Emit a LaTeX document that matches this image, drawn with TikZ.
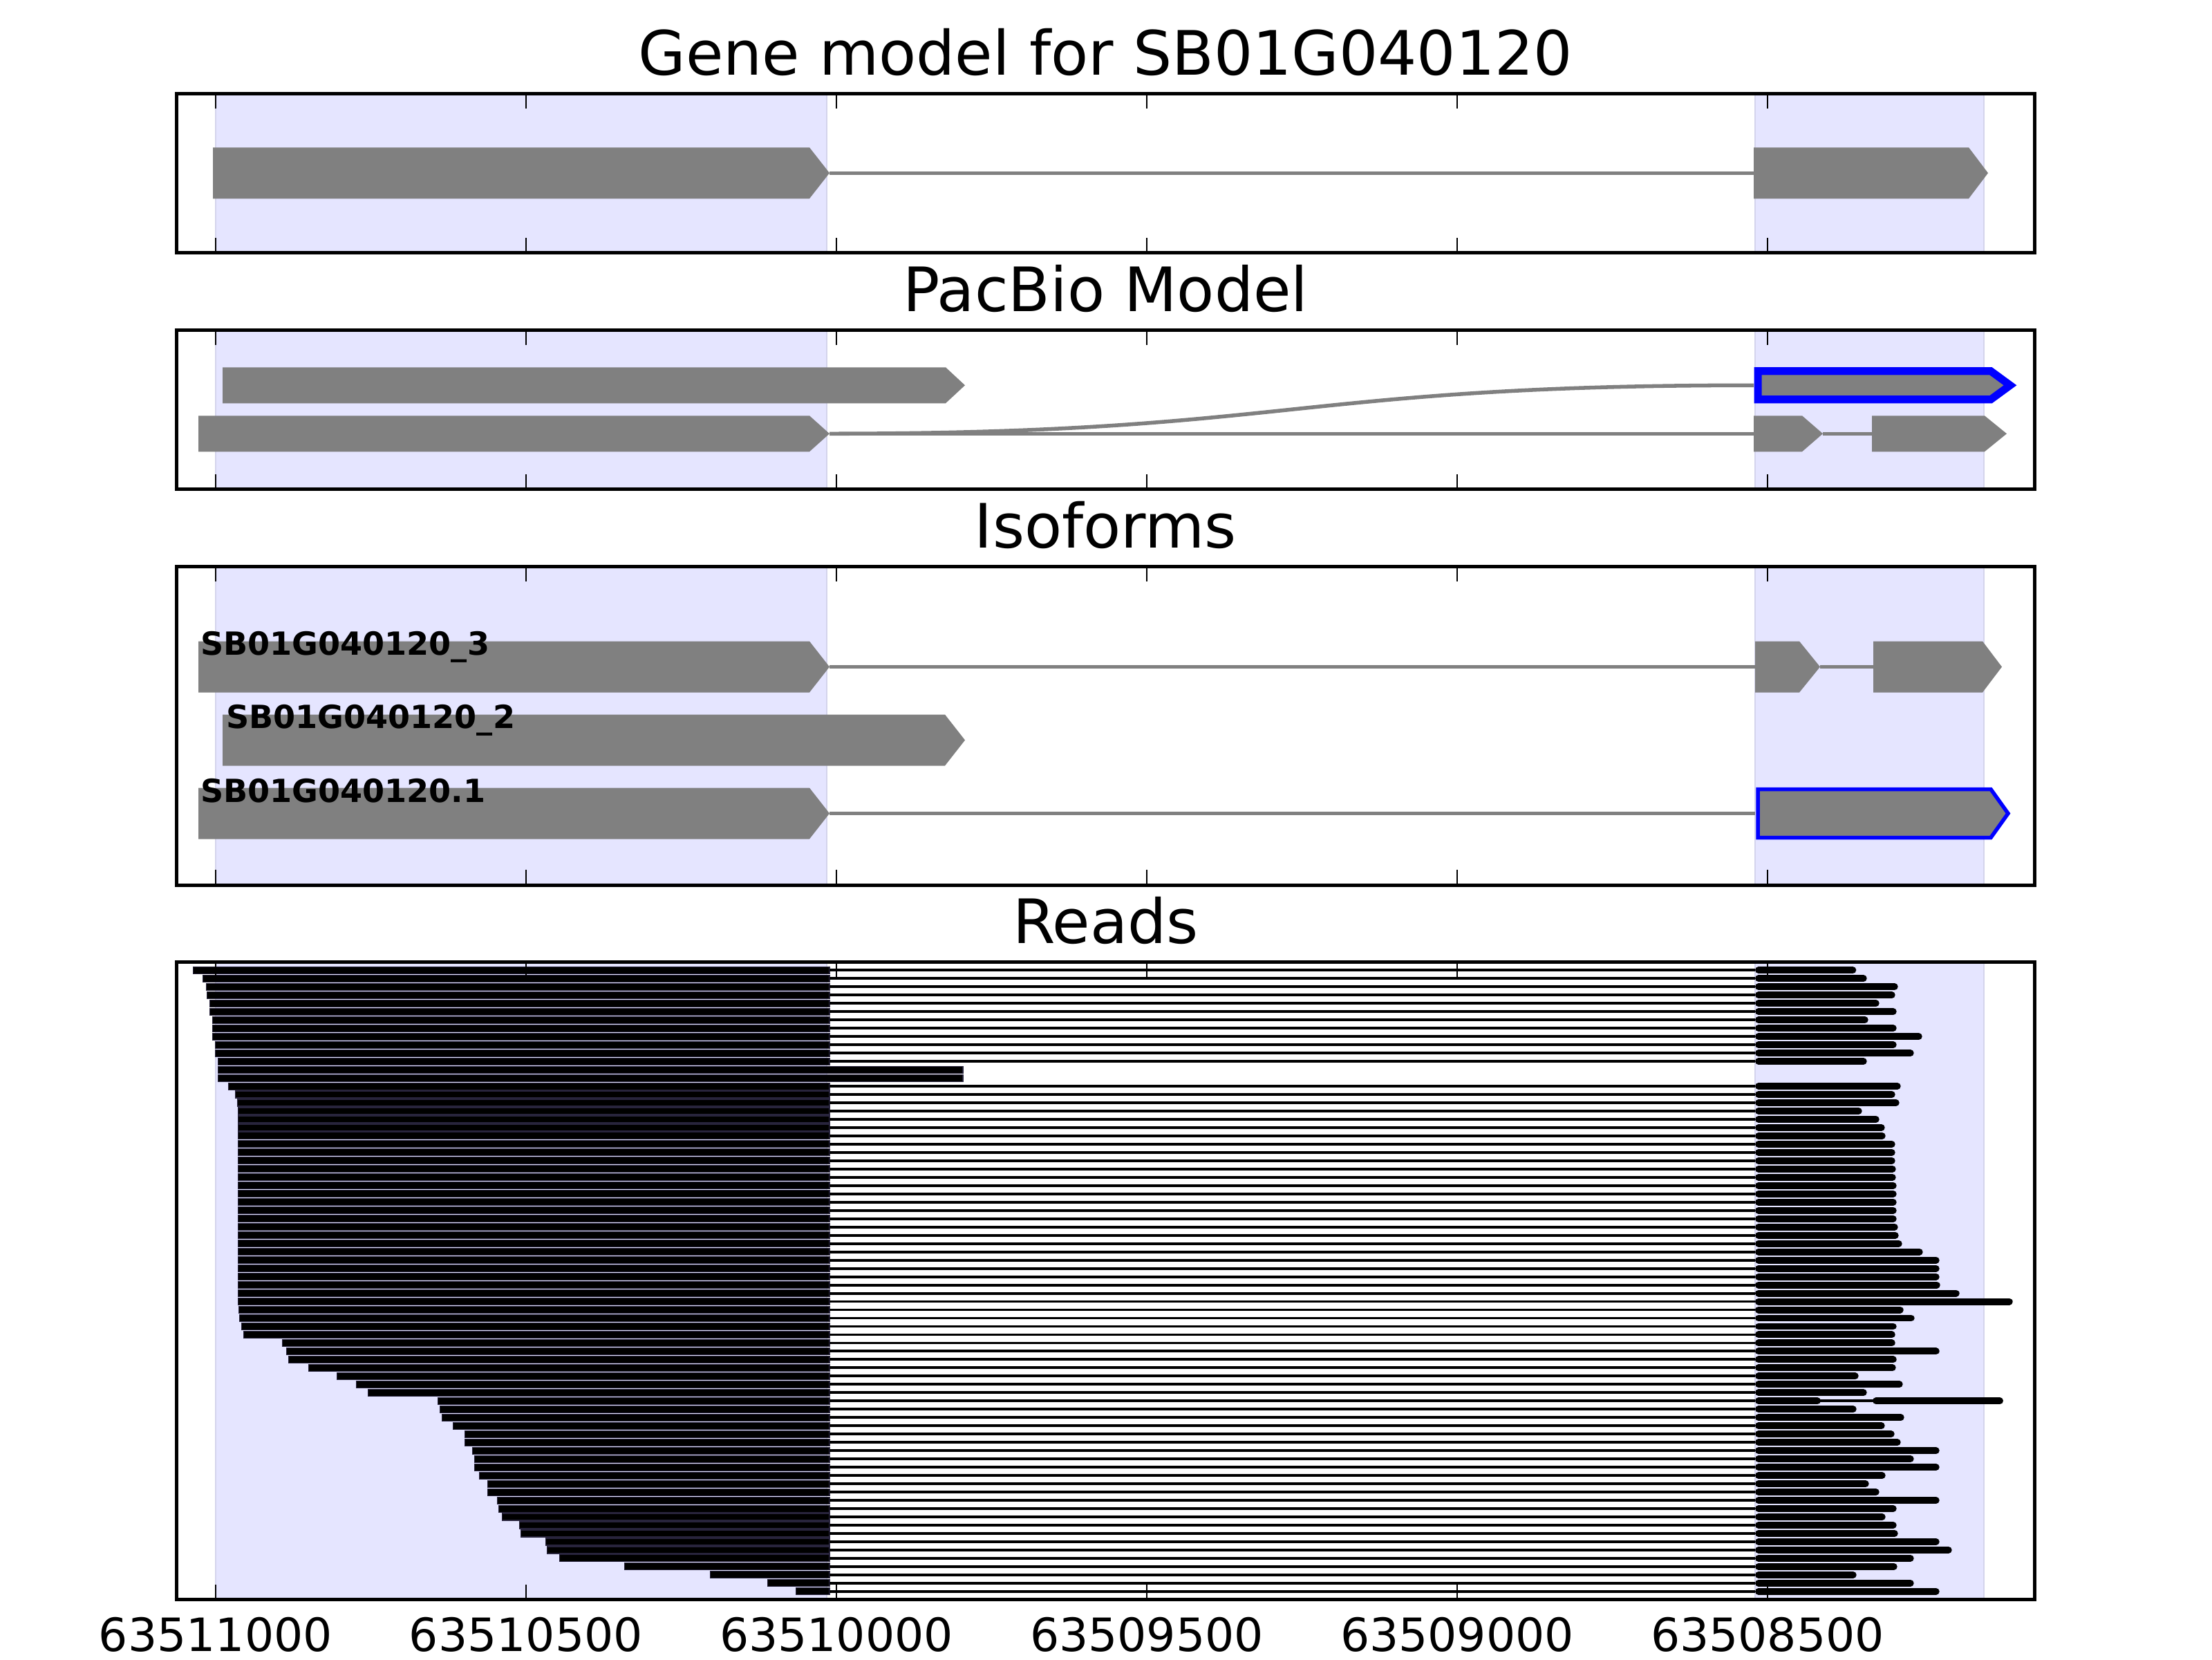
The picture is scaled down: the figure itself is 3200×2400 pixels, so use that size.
\documentclass[tikz,border=0pt]{standalone}
\usepackage{fontspec}
\setmainfont{DejaVu Sans}
\definecolor{spanblue}{RGB}{229,229,255}
\definecolor{spanedge}{RGB}{212,212,236}
\definecolor{readedge}{RGB}{40,36,60}
\tikzstyle{axesframe} = [draw=black, line width=0.9pt]
\tikzstyle{spanbox} = [fill=spanblue, draw=spanedge, line width=0.5pt]
\tikzstyle{exon} = [fill=gray]
\tikzstyle{intron} = [draw=gray, line width=1pt]
\tikzstyle{picked} = [fill=gray, draw=blue, line join=miter]
\tikzstyle{readbody} = [fill=black, draw=readedge, line width=0.2pt]
\tikzstyle{readgap} = [draw=black, line width=0.7pt]
\tikzstyle{readtail} = [draw=black, line width=1.8pt, line cap=round]
\tikzstyle{tickmark} = [draw=black, line width=0.5pt]
\tikzstyle{paneltitle} = [font=\fontsize{16}{19}\selectfont, anchor=base]
\tikzstyle{ticklabel} = [font=\fontsize{12}{14}\selectfont, anchor=base]
\tikzstyle{isolabel} = [font=\bfseries\fontsize{8.33}{10}\selectfont, anchor=base west, inner sep=0pt]
% exon arrow: style, start, body end, tip, centre y, half height
\newcommand{\exonarrow}[6]{\path[#1] (#2,#5-#6) -- (#3,#5-#6) -- (#4,#5) -- (#3,#5+#6) -- (#2,#5+#6) -- cycle;}
\begin{document}
\begin{tikzpicture}[x=0.0635mm, y=-0.0635mm]
   \useasboundingbox (0,0) rectangle (3200,2400);

   % shaded exon regions
   \foreach \top/\bot in {135/365.5, 477/707.5, 819/1280, 1391.5/2313.5} {
      \draw[spanbox] (312,\top) rectangle (1196,\bot);
      \draw[spanbox] (2539,\top) rectangle (2870,\bot);
   }

   % gene model
   \draw[intron] (1200,250.25) -- (2537,250.25);
   \exonarrow{exon}{308}{1171}{1200}{250.25}{37}
   \exonarrow{exon}{2537}{2848}{2876}{250.25}{37}

   % pacbio model
   \draw[intron] (1200,627.25) -- (2537,627.25);
   \draw[intron] (1200,627.25) .. controls (1868,627.25) and (1868,557.25) .. (2537,557.25);
   \draw[intron] (2637,627.25) -- (2708,627.25);
   \exonarrow{exon}{322}{1368}{1396}{557.25}{26}
   \exonarrow{picked, line width=2pt}{2543}{2880}{2908}{557.25}{20.5}
   \exonarrow{exon}{287}{1171}{1200}{627.25}{26}
   \exonarrow{exon}{2537}{2607}{2637}{627.25}{26}
   \exonarrow{exon}{2708}{2871}{2903}{627.25}{26}

   % isoforms
   \draw[intron] (1200,964.5) -- (2539,964.5);
   \draw[intron] (2633,964.5) -- (2710,964.5);
   \draw[intron] (1200,1176.5) -- (2539,1176.5);
   \exonarrow{exon}{287}{1171}{1200}{964.5}{37}
   \exonarrow{exon}{2539}{2603}{2633}{964.5}{37}
   \exonarrow{exon}{2710}{2868}{2896}{964.5}{37}
   \exonarrow{exon}{322}{1367}{1396}{1070.5}{37}
   \exonarrow{exon}{287}{1171}{1200}{1176.5}{37}
   \exonarrow{picked, line width=1pt}{2543}{2880}{2905}{1176.5}{35}
   \node[isolabel] (iso3) at (289,947.5) {SB01G040120\_3};
   \node[isolabel] (iso2) at (326,1053.5) {SB01G040120\_2};
   \node[isolabel] (iso1) at (289,1160) {SB01G040120.1};

   % reads: row / start / tip of last exon
   \foreach \i/\s/\e in {0/279.3/2685.3, 1/293.3/2700.7, 2/298.3/2745.7, 3/299.3/2741.7,
      4/303.3/2718.7, 5/303.3/2743.7, 6/307.3/2702.7, 7/307.3/2743.7, 8/307.3/2780.7,
      9/311.3/2743.7, 10/311.3/2768.7, 11/315.3/2700.7, 14/330.3/2749.7, 15/340.3/2741.7,
      16/343.3/2747.7, 17/344.3/2693.7, 18/344.3/2718.7, 19/344.3/2726.7, 20/344.3/2727.7,
      21/344.3/2741.7, 22/344.3/2741.7, 23/344.3/2741.7, 24/344.3/2742.7, 25/344.3/2742.7,
      26/344.3/2743.7, 27/344.3/2743.7, 28/344.3/2743.7, 29/344.3/2743.7, 30/344.3/2743.7,
      31/344.3/2745.7, 32/344.3/2746.7, 33/344.3/2751.7, 34/344.3/2781.7, 35/344.3/2805.7,
      36/344.3/2805.7, 37/344.3/2805.7, 38/344.3/2806.7, 39/344.3/2834.7, 40/344.3/2911.7,
      41/345.3/2753.7, 42/346.3/2769.7, 43/349.3/2743.7, 44/352.3/2741.7, 45/408.3/2741.7,
      46/414.3/2805.7, 47/417.3/2743.7, 48/446.7/2742.7, 49/487.3/2688.7, 50/515.3/2752.7,
      51/532.3/2700.7, 53/636.3/2685.7, 54/639.3/2754.7, 55/655.3/2726.7, 56/672.3/2740.7,
      57/672.3/2749.7, 58/683.3/2805.7, 59/686.3/2768.7, 60/686.3/2805.7, 61/693.3/2727.7,
      62/705.3/2703.7, 63/705.3/2718.7, 64/719.3/2805.7, 65/721.3/2743.7, 66/726.3/2727.7,
      67/751.3/2743.7, 68/753.3/2745.7, 69/789.3/2805.7, 70/791.3/2823.7, 71/809.3/2768.7,
      72/903.3/2744.7, 73/1027.3/2685.7, 74/1110.3/2768.7, 75/1151.3/2805.7} {
      \pgfmathsetmacro\ry{1403.3+11.98*\i}
      \draw[readbody] (\s,\ry-5) rectangle (1200,\ry+5);
      \draw[readgap] (1200,\ry) -- (2539,\ry);
      \draw[readtail] (2544,\ry) -- (\e-5,\ry);
   }
   \foreach \i in {12,13} {
      \pgfmathsetmacro\ry{1403.3+11.98*\i}
      \draw[readbody] (315.3,\ry-5) rectangle (1393,\ry+5);
   }
   \pgfmathsetmacro\ry{1403.3+11.98*52}
   \draw[readbody] (633.3,\ry-5) rectangle (1200,\ry+5);
   \draw[readgap] (1200,\ry) -- (2539,\ry);
   \draw[readtail] (2544,\ry) -- (2629,\ry);
   \draw[readgap] (2629,\ry) -- (2714,\ry);
   \draw[readtail] (2714,\ry) -- (2893,\ry);

   % axes frames and ticks
   \foreach \top/\bot in {135/365.5, 477/707.5, 819/1280, 1391.5/2313.5} {
      \draw[axesframe] (255.7,\top) rectangle (2943,\bot);
      \foreach \t in {312,761,1210,1659,2108,2557} {
         \draw[tickmark] (\t,\top) -- (\t,\top+22);
         \draw[tickmark] (\t,\bot) -- (\t,\bot-22);
      }
   }

   % titles
   \node[paneltitle] (gtitle) at (1599.4,108) {Gene model for SB01G040120};
   \node[paneltitle] (ptitle) at (1599.4,450) {PacBio Model};
   \node[paneltitle] (ititle) at (1599.4,792) {Isoforms};
   \node[paneltitle] (rtitle) at (1599.4,1364.5) {Reads};

   % tick labels
   \foreach \t/\lab in {312/63511000, 761/63510500, 1210/63510000, 1659/63509500, 2108/63509000, 2557/63508500}
      \node[ticklabel] (tick\lab) at (\t,2388) {\lab};
\end{tikzpicture}
\end{document}
